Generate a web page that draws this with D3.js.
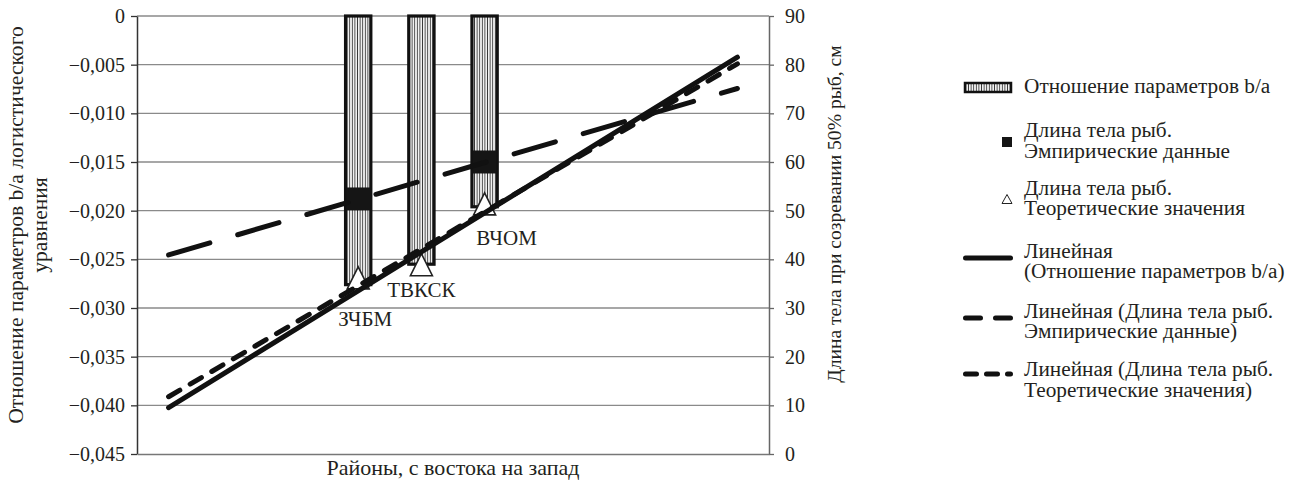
<!DOCTYPE html>
<html>
<head>
<meta charset="utf-8">
<script src="https://cdn.jsdelivr.net/npm/d3@7"></script>
<style>
  html, body { margin: 0; padding: 0; background: #fff; }
  svg { display: block; }
</style>
</head>
<body>
<svg id="chart" width="1295" height="481"></svg>
<script>
// ---------------- data ----------------
const slots = [1, 2, 3, 4, 5, 6, 7, 8, 9, 10];          // category slots of the x axis (unlabelled)
const regions = ["ЗЧБМ", "ТВКСК", "ВЧОМ"];               // regions, east to west
const regionSlot = [4, 5, 6];                            // slot of each region
const ratioBA = [-0.0276, -0.0255, -0.0196];             // b/a ratio (left axis)
const lengthEmpirical = [52.3, null, 59.9];              // body length, empirical (right axis)
const lengthTheoretical = [36.2, 38.9, 51.4];            // body length, theoretical (right axis)
const leftTicks = [0, -0.005, -0.010, -0.015, -0.020, -0.025, -0.030, -0.035, -0.040, -0.045];
const leftTickLabels = ["0", "−0,005", "−0,010", "−0,015", "−0,020", "−0,025", "−0,030", "−0,035", "−0,040", "−0,045"];
const rightTicks = [0, 10, 20, 30, 40, 50, 60, 70, 80, 90];
const rightTickLabels = ["0", "10", "20", "30", "40", "50", "60", "70", "80", "90"];
const leftTitle = ["Отношение параметров b/a логистического", "уравнения"];
const rightTitle = "Длина тела при созревании 50% рыб, см";
const xTitle = "Районы, с востока на запад";
const legendItems = [
  { kind: "bar",    lines: ["Отношение параметров b/a"] },
  { kind: "square", lines: ["Длина тела рыб.", "Эмпирические данные"] },
  { kind: "tri",    lines: ["Длина тела рыб.", "Теоретические значения"] },
  { kind: "solid",  lines: ["Линейная", "(Отношение параметров b/a)"] },
  { kind: "long",   lines: ["Линейная (Длина тела рыб.", "Эмпирические данные)"] },
  { kind: "short",  lines: ["Линейная (Длина тела рыб.", "Теоретические значения)"] }
];

// ---------------- layout ----------------
const FONT = "'Liberation Serif', 'Times New Roman', Tinos, 'DejaVu Serif', serif";
const TEXT = "#231f20";
const plot = { left: 137, right: 769, top: 16, bottom: 454 };
const svg = d3.select("#chart").attr("font-family", FONT);
svg.append("rect").attr("width", 1295).attr("height", 481).attr("fill", "#fff");

const x = d3.scaleBand().domain(slots).range([plot.left, plot.right]).paddingInner(0.6).paddingOuter(0.3);
const cx = s => x(s) + x.bandwidth() / 2;
const yL = d3.scaleLinear().domain([-0.045, 0]).range([plot.bottom, plot.top]);
const yR = d3.scaleLinear().domain([0, 90]).range([plot.bottom, plot.top]);

// hatch pattern
const defs = svg.append("defs");
const pat = defs.append("pattern").attr("id", "hatch").attr("patternUnits", "userSpaceOnUse")
  .attr("width", 2.6).attr("height", 10);
pat.append("rect").attr("width", 2.6).attr("height", 10).attr("fill", "#fff");
pat.append("line").attr("x1", 1.3).attr("x2", 1.3).attr("y1", 0).attr("y2", 10)
  .attr("stroke", "#3a3a3a").attr("stroke-width", 1);

// gridlines
svg.append("g").selectAll("line").data(leftTicks.filter(d => d !== -0.045)).join("line")
  .attr("x1", plot.left).attr("x2", plot.right)
  .attr("y1", d => yL(d)).attr("y2", d => yL(d))
  .attr("stroke", "#8a8a8a").attr("stroke-width", 1.3);

// axes
const tickFont = 20;
const gL = svg.append("g").attr("transform", `translate(${plot.left},0)`)
  .call(d3.axisLeft(yL).tickValues(leftTicks).tickFormat((d, i) => leftTickLabels[i])
    .tickSize(6).tickPadding(6).tickSizeOuter(0));
gL.select(".domain").attr("stroke", "#333").attr("stroke-width", 1.5);
gL.selectAll(".tick line").attr("stroke", "#333").attr("stroke-width", 1.3);

const gR = svg.append("g").attr("transform", `translate(${plot.right},0)`)
  .call(d3.axisRight(yR).tickValues(rightTicks).tickFormat((d, i) => rightTickLabels[i])
    .tickSize(5).tickPadding(11).tickSizeOuter(0));
gR.select(".domain").attr("stroke", "#666").attr("stroke-width", 1.5);
gR.selectAll(".tick line").attr("stroke", "#666").attr("stroke-width", 1.3);

const gB = svg.append("g").attr("transform", `translate(0,${plot.bottom})`)
  .call(d3.axisBottom(x).tickValues([]).tickSizeOuter(0));
gB.select(".domain").attr("stroke", "#777").attr("stroke-width", 1.5);

[gL, gR, gB].forEach(g => g.attr("font-family", FONT).attr("font-size", tickFont));
svg.selectAll(".tick text").attr("font-family", FONT).attr("font-size", tickFont).attr("fill", TEXT);

// bars
svg.append("g").selectAll("rect").data(ratioBA).join("rect")
  .attr("x", (d, i) => x(regionSlot[i]))
  .attr("width", x.bandwidth())
  .attr("y", yL(0))
  .attr("height", d => yL(d) - yL(0))
  .attr("fill", "url(#hatch)")
  .attr("stroke", "#111").attr("stroke-width", 3.2);

// squares (empirical)
const sq = 24;
svg.append("g").selectAll("rect")
  .data(lengthEmpirical.map((v, i) => ({ v, s: regionSlot[i] })).filter(d => d.v != null))
  .join("rect")
  .attr("x", d => cx(d.s) - sq / 2).attr("y", d => yR(d.v) - sq / 2)
  .attr("width", sq).attr("height", sq - 1).attr("fill", "#151515");

// triangles (theoretical)
const triPath = (w, h) => `M0,${-h / 2}L${w / 2},${h / 2}L${-w / 2},${h / 2}Z`;
svg.append("g").selectAll("path").data(lengthTheoretical).join("path")
  .attr("transform", (d, i) => `translate(${cx(regionSlot[i])},${yR(d)})`)
  .attr("d", triPath(22, 22))
  .attr("fill", "#fff").attr("stroke", "#222").attr("stroke-width", 1.6);

// linear trend lines over all slots
function trend(values, scale) {
  const pts = values.map((v, i) => [regionSlot[i], v]).filter(p => p[1] != null);
  const mx = d3.mean(pts, p => p[0]), my = d3.mean(pts, p => p[1]);
  const b = d3.sum(pts, p => (p[0] - mx) * (p[1] - my)) / d3.sum(pts, p => (p[0] - mx) ** 2);
  const a = my - b * mx;
  const ends = [slots[0], slots[slots.length - 1]];
  return d3.line().x(s => cx(s)).y(s => scale(a + b * s))(ends);
}
const lineG = svg.append("g").attr("fill", "none").attr("stroke", "#111")
  .attr("stroke-width", 5).attr("stroke-linecap", "round");
lineG.append("path").attr("d", trend(lengthTheoretical, yR)).attr("stroke-dasharray", "13,12");
lineG.append("path").attr("d", trend(lengthEmpirical, yR)).attr("stroke-dasharray", "43,29");
lineG.append("path").attr("d", trend(ratioBA, yL));

// text helper
const T = (sel, size) => sel.attr("font-family", FONT).attr("font-size", size).attr("fill", TEXT);

// region labels
const labelOffset = [[7, 48], [0, 32], [22, 41]];
T(svg.append("g"), 21).selectAll("text").data(regions).join("text")
  .attr("x", (d, i) => cx(regionSlot[i]) + labelOffset[i][0])
  .attr("y", (d, i) => yR(lengthTheoretical[i]) + labelOffset[i][1])
  .attr("text-anchor", "middle").text(d => d);

// axis titles
const lt = T(svg.append("text"), 21.6).attr("transform", "translate(23,225) rotate(-90)")
  .attr("text-anchor", "middle");
lt.selectAll("tspan").data(leftTitle).join("tspan")
  .attr("x", 0).attr("dy", (d, i) => i === 0 ? 0 : 24).text(d => d);
T(svg.append("text"), 19.6).attr("transform", "translate(841,214) rotate(-90)")
  .attr("text-anchor", "middle").text(rightTitle);
T(svg.append("text"), 22).attr("x", (plot.left + plot.right) / 2).attr("y", 475)
  .attr("text-anchor", "middle").text(xTitle);

// legend
const legBaselines = [[93], [137, 158], [195, 215], [258, 278], [318, 338], [376, 397]];
const legSwatchY = [87.5, 142, 199, 258, 318, 374];
const leg = T(svg.append("g"), 21.3);
legendItems.forEach((item, i) => {
  const y = legSwatchY[i];
  if (item.kind === "bar") {
    leg.append("rect").attr("x", 965).attr("y", y - 4.5).attr("width", 46).attr("height", 9)
      .attr("fill", "url(#hatch)").attr("stroke", "#111").attr("stroke-width", 2.5);
  } else if (item.kind === "square") {
    leg.append("rect").attr("x", 1002).attr("y", y - 5).attr("width", 10).attr("height", 10).attr("fill", "#151515");
  } else if (item.kind === "tri") {
    leg.append("path").attr("transform", `translate(1007,${y})`).attr("d", triPath(10, 9))
      .attr("fill", "#fff").attr("stroke", "#222").attr("stroke-width", 1);
  } else {
    const p = leg.append("line").attr("x1", 965.5).attr("x2", 1010.5).attr("y1", y).attr("y2", y)
      .attr("stroke", "#111").attr("stroke-width", 5).attr("stroke-linecap", "round");
    if (item.kind === "long") p.attr("stroke-dasharray", "15,15");
    if (item.kind === "short") p.attr("stroke-dasharray", "11,10");
  }
  item.lines.forEach((t, j) => {
    leg.append("text").attr("x", 1024).attr("y", legBaselines[i][j]).text(t);
  });
});
</script>
</body>
</html>
